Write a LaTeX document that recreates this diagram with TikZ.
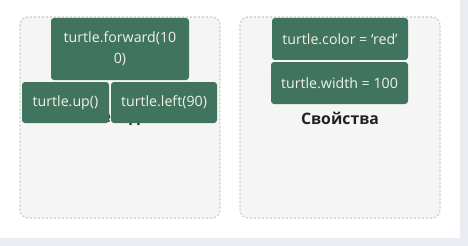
\documentclass[tikz,border=0pt]{standalone}
\usepackage{fontspec}
\setmainfont{Open Sans}

\definecolor{pagegray}{HTML}{E9EDF1}
\definecolor{panelfill}{HTML}{F5F5F5}
\definecolor{panelline}{HTML}{CBCBCB}
\definecolor{boxgreen}{HTML}{41745E}
\definecolor{boxtext}{HTML}{F0F2E6}
\definecolor{titletext}{HTML}{222222}

\def \panelwidth {200pt}
\def \panelheight {201pt}

\begin{document}
\begin{tikzpicture}[x=1pt, y=-1pt,
  panel/.style={draw=panelline, fill=panelfill, dash pattern=on 2pt off 2pt, line width=1.2pt, rounded corners=8pt, minimum width=\panelwidth, minimum height=\panelheight},
  codebox/.style={fill=boxgreen, text=boxtext, rounded corners=3pt, inner sep=0pt, align=center, font=\fontsize{14.2}{21}\selectfont},
  title/.style={text=titletext, font=\bfseries\fontsize{15.8}{18}\selectfont}]

% page and its grey margins
\fill[white] (0,0) rectangle (468,246);
\fill[pagegray] (460,0) rectangle (468,246);
\fill[pagegray] (0,238) rectangle (468,246);
\useasboundingbox (0,0) rectangle (468,246);

% two dashed panels
\node[panel] (methods) at (120,117.5) {};
\node[panel] (props) at (340,117.5) {};

% panel titles (the methods one sits under its boxes)
\node[title] (methodstitle) at (120,118) {Методы};
\node[title] (propstitle) at (340,118) {Свойства};

% methods
\node[codebox, minimum width=138pt, minimum height=62pt] (forward) at (120,49) {turtle.forward(10\\0)};
\node[codebox, minimum width=87pt, minimum height=41pt] (up) at (65.5,102.5) {turtle.up()};
\node[codebox, minimum width=106pt, minimum height=41pt] (left) at (164,102.5) {turtle.left(90)};

% properties
\node[codebox, minimum width=136pt, minimum height=42pt] (color) at (340,39) {turtle.color = ‘red’};
\node[codebox, minimum width=137pt, minimum height=42pt] (width) at (339.5,83) {turtle.width = 100};
\end{tikzpicture}
\end{document}
